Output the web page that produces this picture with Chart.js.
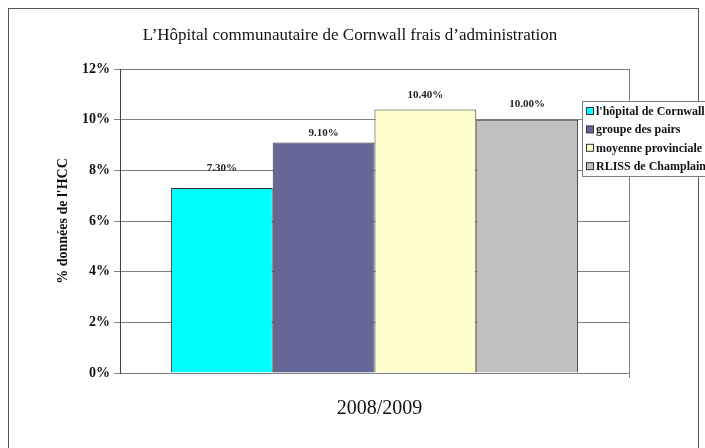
<!DOCTYPE html>
<html>
<head>
<meta charset="utf-8">
<script src="https://cdn.jsdelivr.net/npm/chart.js@4"></script>
<style>
  html, body { margin: 0; padding: 0; background: #ffffff; }
  #wrap { width: 705px; height: 448px; position: relative; }
</style>
</head>
<body>
<div id="wrap"><canvas id="c" width="705" height="448"></canvas></div>
<script>
// ---- data ----
const categories = ['2008/2009'];
const seriesNames = ["l'hôpital de Cornwall", 'groupe des pairs', 'moyenne provinciale', 'RLISS de Champlain'];
const seriesValues = [7.3, 9.1, 10.4, 10.0];
const seriesColors = ['#00FFFF', '#666699', '#FFFFCC', '#C0C0C0'];
const yTicks = [0, 2, 4, 6, 8, 10, 12];
const chartTitle = "L\u2019Hôpital communautaire de Cornwall frais d\u2019administration";
const yTitle = "% données de l'HCC";

const SERIF = '"Liberation Serif", "Times New Roman", serif';

const datasets = seriesNames.map((name, i) => ({
  label: name,
  data: [seriesValues[i]],
  backgroundColor: seriesColors[i],
  borderColor: '#333333',
  borderWidth: 1,
  barPercentage: 1.0,
  categoryPercentage: 0.8
}));

const framePlugin = {
  id: 'frame',
  beforeDraw(chart) {
    const ctx = chart.ctx;
    ctx.save();
    ctx.fillStyle = '#ffffff';
    ctx.fillRect(0, 0, chart.width, chart.height);
    ctx.strokeStyle = '#555555';
    ctx.lineWidth = 1;
    ctx.strokeRect(8.5, 8.5, 690, 470);
    // title
    ctx.fillStyle = '#111111';
    ctx.font = '17px ' + SERIF;
    ctx.textAlign = 'center';
    ctx.textBaseline = 'middle';
    ctx.fillText(chartTitle, 350, 36);
    ctx.restore();
  },
  afterDatasetsDraw(chart) {
    const ctx = chart.ctx;
    const a = chart.chartArea;
    ctx.save();
    ctx.strokeStyle = '#808080';
    ctx.lineWidth = 1;
    ctx.beginPath();
    ctx.moveTo(Math.round(a.right) + 0.5, a.top);
    ctx.lineTo(Math.round(a.right) + 0.5, a.bottom + 5);
    ctx.stroke();
    // value labels
    ctx.fillStyle = '#222222';
    ctx.font = 'bold 11px ' + SERIF;
    ctx.textAlign = 'center';
    ctx.textBaseline = 'middle';
    const offs = [20, 9, 14, 16];
    chart.data.datasets.forEach((ds, i) => {
      const meta = chart.getDatasetMeta(i);
      meta.data.forEach((bar, j) => {
        ctx.fillText(ds.data[j].toFixed(2) + '%', bar.x, bar.y - offs[i]);
      });
    });
    // legend
    const lx = 582, ly = 101, lw = 130, lh = 75;
    ctx.fillStyle = '#ffffff';
    ctx.fillRect(lx, ly, lw, lh);
    ctx.strokeStyle = '#808080';
    ctx.strokeRect(lx + 0.5, ly + 0.5, lw, lh);
    ctx.font = 'bold 12px ' + SERIF;
    ctx.textAlign = 'left';
    chart.data.datasets.forEach((ds, i) => {
      const cy = ly + 10 + i * 18.4;
      ctx.fillStyle = ds.backgroundColor;
      ctx.fillRect(lx + 4, cy - 3.5, 7, 7);
      ctx.strokeStyle = '#333333';
      ctx.strokeRect(lx + 4.5, cy - 3.5, 7, 7);
      ctx.fillStyle = '#111111';
      ctx.fillText(ds.label, lx + 14, cy + 1);
    });
    ctx.restore();
  }
};

new Chart(document.getElementById('c'), {
  type: 'bar',
  data: { labels: categories, datasets },
  plugins: [framePlugin],
  options: {
    responsive: false,
    animation: false,
    layout: { padding: { left: 50, right: 76, top: 69, bottom: 0 } },
    plugins: {
      legend: { display: false },
      tooltip: { enabled: false },
      title: { display: false }
    },
    scales: {
      x: {
        grid: { display: false, drawTicks: false },
        border: { display: true, color: '#808080' },
        ticks: {
          color: '#111111',
          font: { family: SERIF, size: 20 },
          padding: 24,
          labelOffset: 5
        },
        afterFit(s) { s.height = 75; }
      },
      y: {
        min: 0,
        max: 12,
        afterBuildTicks(s) { s.ticks = yTicks.map(v => ({ value: v })); },
        grid: { color: '#808080', tickLength: 6, tickColor: '#808080' },
        border: { display: true, color: '#404040' },
        ticks: {
          color: '#111111',
          font: { family: SERIF, size: 14, weight: 'bold' },
          padding: 4,
          callback: v => v + '%'
        },
        title: {
          display: true,
          text: yTitle,
          color: '#111111',
          font: { family: SERIF, size: 14, weight: 'bold' },
          padding: { top: 5, bottom: 0 }
        },
        afterFit(s) { s.width = 70; }
      }
    }
  }
});
</script>
</body>
</html>
